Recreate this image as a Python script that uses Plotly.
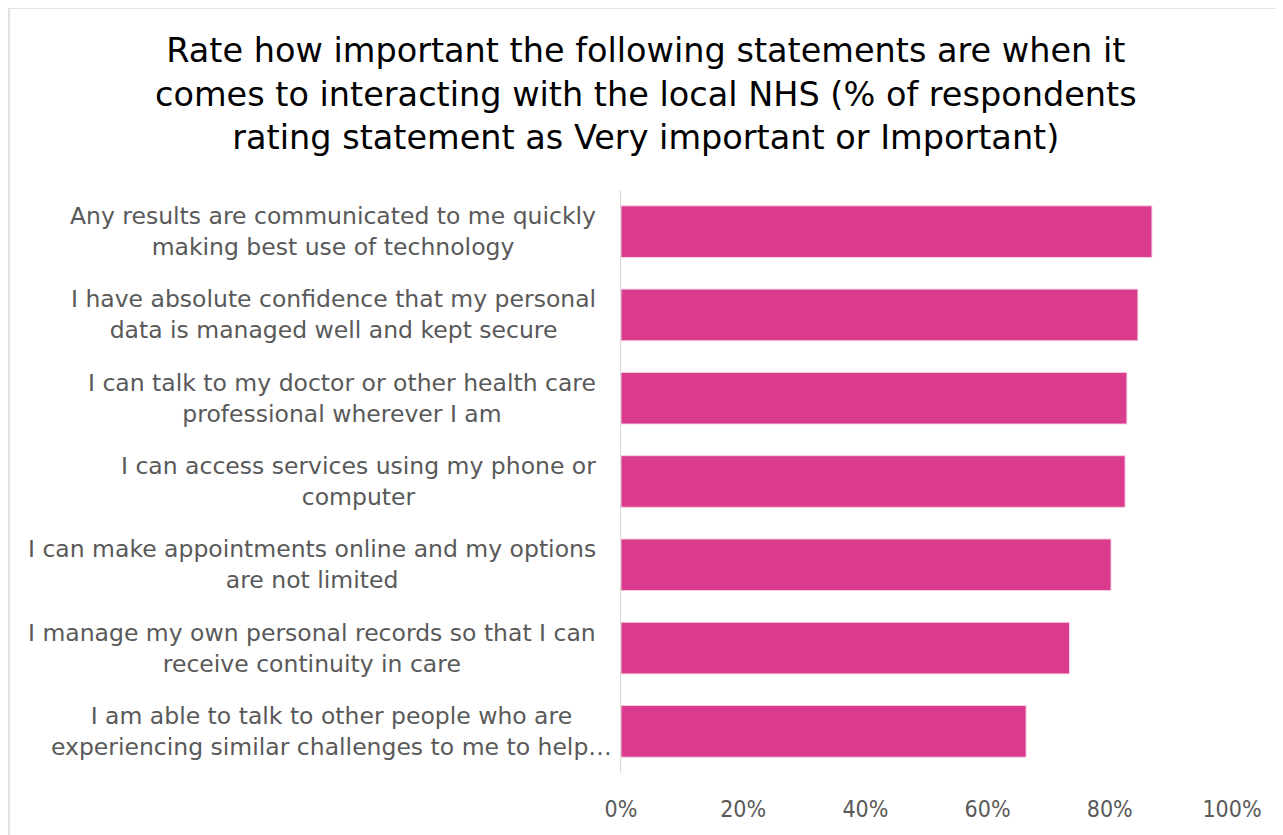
import plotly.graph_objects as go

categories = [
    "Any results are communicated to me quickly<br>making best use of technology",
    "I have absolute confidence that my personal<br>data is managed well and kept secure",
    "I can talk to my doctor or other health care<br>professional wherever I am",
    "I can access services using my phone or<br>computer",
    "I can make appointments online and my options<br>are not limited",
    "I manage my own personal records so that I can<br>receive continuity in care",
    "I am able to talk to other people who are<br>experiencing similar challenges to me to help…",
]
values = [0.869, 0.846, 0.828, 0.825, 0.802, 0.734, 0.663]
tick_vals = [0, 0.2, 0.4, 0.6, 0.8, 1.0]
tick_text = ["0%", "20%", "40%", "60%", "80%", "100%"]
title_text = ("Rate how important the following statements are when it<br>"
              "comes to interacting with the local NHS (% of respondents<br>"
              "rating statement as Very important or Important)")

W, H = 1283, 835
OFF = 8  # page offset (body margin)
L, R, T, B = 621 - OFF, 51 + OFF, 190 - OFF, 62 + OFF
pw = W - L - R
ph = H - T - B

FONT_C = "DejaVu Sans Condensed, Liberation Sans Narrow, Open Sans, sans-serif"
FONT = "DejaVu Sans, Open Sans, sans-serif"

fig = go.Figure()
fig.add_trace(go.Bar(
    x=values, y=list(range(len(categories))), orientation="h",
    marker=dict(color="#DA3B8D", line=dict(color="#F6D2E4", width=1)),
    width=0.62, hoverinfo="skip",
))

annotations = []
for i, lab in enumerate(categories):
    right_px = 614 if lab.endswith("…") else 598
    annotations.append(dict(
        x=(right_px - OFF - L) / pw, xref="paper", y=i, yref="y",
        text=lab, showarrow=False, xanchor="right", yanchor="middle",
        align="center", font=dict(family=FONT, size=23.5, color="#595959"),
    ))
annotations.append(dict(
    x=(646 - OFF - L) / pw, xref="paper", y=(H - (94 - OFF) - B) / ph, yref="paper",
    text=title_text, showarrow=False, xanchor="center", yanchor="middle",
    align="center", font=dict(family=FONT, size=33.5, color="#000000"),
))

fig.update_layout(
    width=W, height=H,
    margin=dict(l=L, r=R, t=T, b=B, autoexpand=False),
    paper_bgcolor="white", plot_bgcolor="white",
    showlegend=False,
    annotations=annotations,
    xaxis=dict(range=[0, 1], tickvals=tick_vals, ticktext=tick_text,
               showgrid=False, zeroline=False, showline=False,
               tickfont=dict(family=FONT_C, size=23, color="#595959"),
               ticks="", ticklabelstandoff=20, fixedrange=True),
    yaxis=dict(range=[len(categories) - 0.5, -0.5], showticklabels=False,
               showgrid=False, zeroline=False, showline=True,
               linecolor="#D9D9D9", linewidth=1, ticks="", fixedrange=True),
    shapes=[dict(type="rect", xref="paper", yref="paper",
                 x0=(1 - L) / pw, x1=(1290 - L) / pw,
                 y0=(H - 850 - B) / ph, y1=(H - 0 - B) / ph,
                 line=dict(color="#D9D9D9", width=1.5), layer="below")],
)

fig.write_html("out.html", config={"displayModeBar": False})
